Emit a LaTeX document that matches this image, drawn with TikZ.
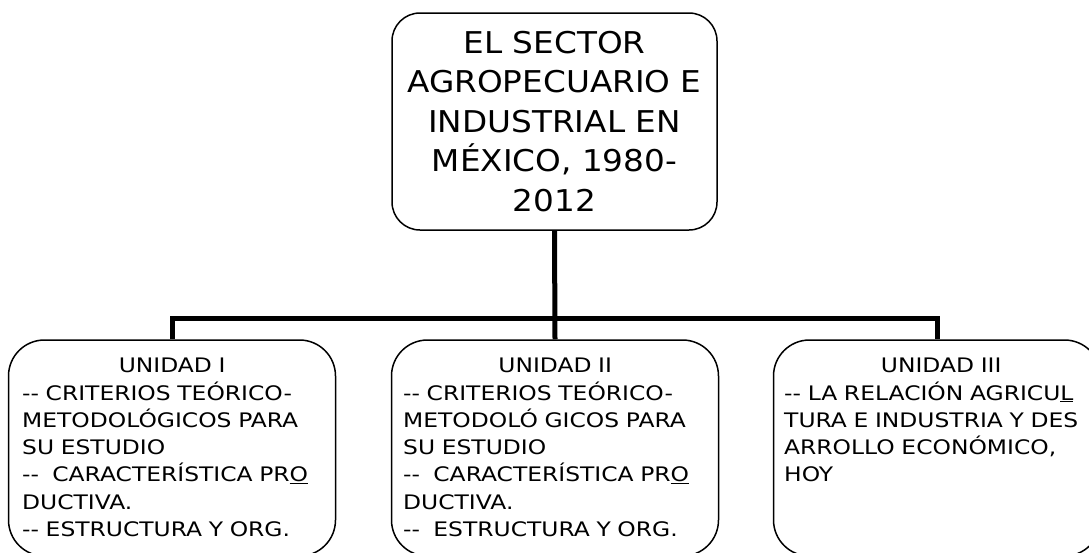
\documentclass[tikz,border=0pt]{standalone}
\usepackage{fontspec}
\setmainfont{DejaVu Sans}
\newfontfamily\titlefont[FakeStretch=1.09]{DejaVu Sans}
\newfontfamily\unitfont[FakeStretch=1.17]{DejaVu Sans}
\begin{document}
\begin{tikzpicture}[x=1pt,y=-1pt,
  topbox/.style={draw, line width=1.5pt, rounded corners=28pt, minimum width=325pt, minimum height=217pt, inner sep=0pt, align=center, font=\titlefont\fontsize{30}{39.5}\selectfont},
  unitbox/.style={draw, line width=1.5pt, rounded corners=36pt, minimum width=327pt, minimum height=216pt, inner sep=0pt},
  unittext/.style={anchor=north west, inner sep=0pt, align=left, text width=330pt, font=\unitfont\fontsize{20}{27.3}\selectfont},
  conn/.style={line width=5pt}]
\useasboundingbox (0,0) rectangle (1089,552);
\node[topbox] (top) at (554.5,121.5) {EL SECTOR\\AGROPECUARIO E\\INDUSTRIAL EN\\MÉXICO, 1980-\\2012};
\node[unitbox] (u1) at (172,448) {};
\node[unitbox] (u2) at (555,448) {};
\node[unitbox] (u3) at (937,448) {};
\coordinate (bus) at (0,318);
\node[unittext] (t1) at (22,358) {\hbox to 300pt{\hfil UNIDAD I\hfil}\\-{}- CRITERIOS TEÓRICO-\\METODOLÓGICOS PARA\\SU ESTUDIO\\-{}-\ \ CARACTERÍSTICA PR\underline{O}\\DUCTIVA.\\-{}- ESTRUCTURA Y ORG.};
\node[unittext] (t2) at (403,358) {\hbox to 304pt{\hfil UNIDAD II\hfil}\\-{}- CRITERIOS TEÓRICO-\\METODOLÓ GICOS PARA\\SU ESTUDIO\\-{}-\ \ CARACTERÍSTICA PR\underline{O}\\DUCTIVA.\\-{}-\ \ ESTRUCTURA Y ORG.};
\node[unittext] (t3) at (784,358) {\hbox to 314pt{\hfil UNIDAD III\hfil}\\-{}- LA RELACIÓN AGRICU\underline{L}\\TURA E INDUSTRIA Y DES\\ARROLLO ECONÓMICO,\\HOY};
\draw[conn] (top.south) -- (u2.north);
\draw[conn] (u1.north) -- (u1.north |- bus) -- (u3.north |- bus) -- (u3.north);
\end{tikzpicture}
\end{document}
